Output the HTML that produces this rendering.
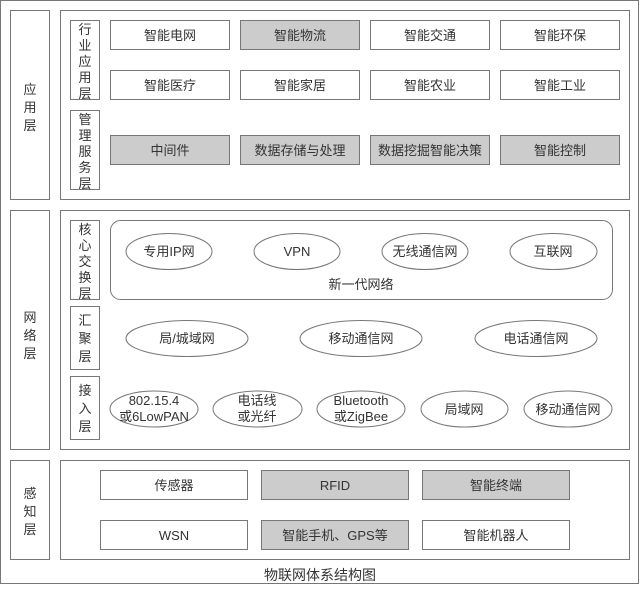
<!DOCTYPE html>
<html><head><meta charset="utf-8"><style>
html,body{margin:0;padding:0;background:#fff}
svg text{font-family:"Liberation Sans","Noto Sans CJK SC",sans-serif;font-size:13px;fill:#333}
</style></head><body>
<svg width="640" height="585" viewBox="0 0 640 585" xmlns="http://www.w3.org/2000/svg">
<g fill="none" stroke="#777" stroke-width="1">
<rect x="0.5" y="0.5" width="638" height="583"/>
<rect x="10.5" y="10.5" width="39" height="189"/>
<rect x="60.5" y="10.5" width="569" height="189"/>
<rect x="70.5" y="20.5" width="29" height="79"/>
<rect x="70.5" y="110.5" width="29" height="79"/>
<rect x="10.5" y="210.5" width="39" height="239"/>
<rect x="60.5" y="210.5" width="569" height="239"/>
<rect x="70.5" y="220.5" width="29" height="79"/>
<rect x="70.5" y="306.5" width="29" height="63"/>
<rect x="70.5" y="376.5" width="29" height="63"/>
<rect x="110.5" y="220.5" width="502" height="79" rx="10"/>
<rect x="10.5" y="460.5" width="39" height="99"/>
<rect x="60.5" y="460.5" width="569" height="99"/>
</g>
<g stroke="#777" stroke-width="1">
<rect x="110.5" y="20.5" width="119" height="29" fill="#fff"/>
<rect x="240.5" y="20.5" width="119" height="29" fill="#ccc"/>
<rect x="370.5" y="20.5" width="119" height="29" fill="#fff"/>
<rect x="500.5" y="20.5" width="119" height="29" fill="#fff"/>
<rect x="110.5" y="70.5" width="119" height="29" fill="#fff"/>
<rect x="240.5" y="70.5" width="119" height="29" fill="#fff"/>
<rect x="370.5" y="70.5" width="119" height="29" fill="#fff"/>
<rect x="500.5" y="70.5" width="119" height="29" fill="#fff"/>
<rect x="110.5" y="135.5" width="119" height="29" fill="#ccc"/>
<rect x="240.5" y="135.5" width="119" height="29" fill="#ccc"/>
<rect x="370.5" y="135.5" width="119" height="29" fill="#ccc"/>
<rect x="500.5" y="135.5" width="119" height="29" fill="#ccc"/>
<rect x="100.5" y="470.5" width="147" height="29" fill="#fff"/>
<rect x="261.5" y="470.5" width="147" height="29" fill="#ccc"/>
<rect x="422.5" y="470.5" width="147" height="29" fill="#ccc"/>
<rect x="100.5" y="520.5" width="147" height="29" fill="#fff"/>
<rect x="261.5" y="520.5" width="147" height="29" fill="#ccc"/>
<rect x="422.5" y="520.5" width="147" height="29" fill="#fff"/>
</g>
<g fill="#fff" stroke="#777" stroke-width="1">
<ellipse cx="169" cy="251.5" rx="43" ry="18"/>
<ellipse cx="297" cy="251.5" rx="43" ry="18"/>
<ellipse cx="425" cy="251.5" rx="43" ry="18"/>
<ellipse cx="553.5" cy="251.5" rx="43.5" ry="18"/>
<ellipse cx="187" cy="338.5" rx="61" ry="18"/>
<ellipse cx="361" cy="338.5" rx="61" ry="18"/>
<ellipse cx="536" cy="338.5" rx="61" ry="18"/>
<ellipse cx="154" cy="409" rx="44" ry="18"/>
<ellipse cx="257.5" cy="409" rx="44.5" ry="18"/>
<ellipse cx="361" cy="409" rx="44" ry="18"/>
<ellipse cx="464.5" cy="409" rx="43.5" ry="18"/>
<ellipse cx="568" cy="409" rx="44" ry="18"/>
</g>
<g text-anchor="middle">
<text x="30" y="94">应</text><text x="30" y="112">用</text><text x="30" y="130">层</text>
<text x="85" y="34">行</text><text x="85" y="50">业</text><text x="85" y="66">应</text><text x="85" y="82">用</text><text x="85" y="98">层</text>
<text x="85" y="124">管</text><text x="85" y="140">理</text><text x="85" y="156">服</text><text x="85" y="172">务</text><text x="85" y="188">层</text>
<text x="30" y="322">网</text><text x="30" y="340">络</text><text x="30" y="358">层</text>
<text x="85" y="234">核</text><text x="85" y="250">心</text><text x="85" y="266">交</text><text x="85" y="282">换</text><text x="85" y="298">层</text>
<text x="85" y="325">汇</text><text x="85" y="343">聚</text><text x="85" y="361">层</text>
<text x="85" y="395">接</text><text x="85" y="413">入</text><text x="85" y="431">层</text>
<text x="30" y="498">感</text><text x="30" y="516">知</text><text x="30" y="534">层</text>
<text x="170" y="40">智能电网</text><text x="300" y="40">智能物流</text><text x="430" y="40">智能交通</text><text x="560" y="40">智能环保</text>
<text x="170" y="90">智能医疗</text><text x="300" y="90">智能家居</text><text x="430" y="90">智能农业</text><text x="560" y="90">智能工业</text>
<text x="170" y="155">中间件</text><text x="300" y="155">数据存储与处理</text><text x="430" y="155">数据挖掘智能决策</text><text x="560" y="155">智能控制</text>
<text x="169" y="256">专用IP网</text><text x="297" y="256">VPN</text><text x="425" y="256">无线通信网</text><text x="553" y="256">互联网</text>
<text x="361" y="289">新一代网络</text>
<text x="187" y="343">局/城域网</text><text x="361" y="343">移动通信网</text><text x="536" y="343">电话通信网</text>
<text x="154" y="405">802.15.4</text><text x="154" y="421">或6LowPAN</text>
<text x="257" y="405">电话线</text><text x="257" y="421">或光纤</text>
<text x="361" y="405">Bluetooth</text><text x="361" y="421">或ZigBee</text>
<text x="464" y="414">局域网</text><text x="568" y="414">移动通信网</text>
<text x="174" y="490">传感器</text><text x="335" y="490">RFID</text><text x="496" y="490">智能终端</text>
<text x="174" y="540">WSN</text><text x="335" y="540">智能手机、GPS等</text><text x="496" y="540">智能机器人</text>
<text x="320" y="580" style="font-size:14px">物联网体系结构图</text>
</g>
</svg>
</body></html>
